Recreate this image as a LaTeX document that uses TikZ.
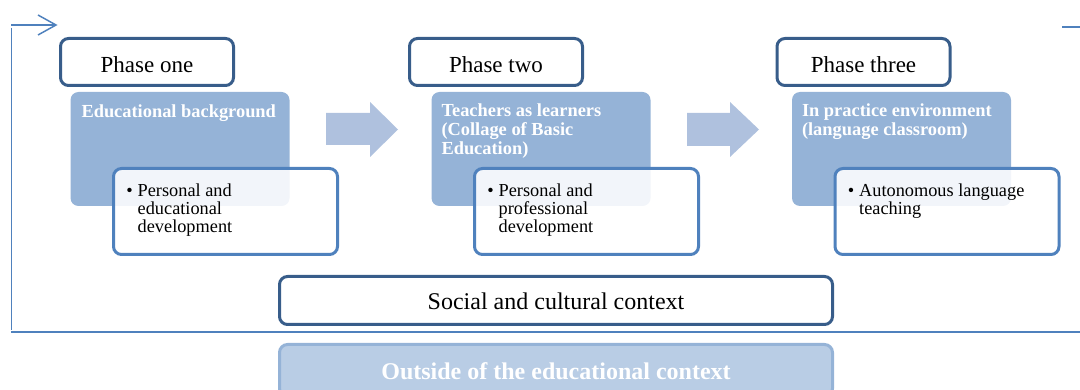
\documentclass[tikz,border=0pt]{standalone}
\usepackage{fontspec}
\setmainfont{Liberation Serif}
\usetikzlibrary{calc}
\definecolor{darkb}{HTML}{385D8A}
\definecolor{midb}{HTML}{4F81BD}
\definecolor{lightb}{HTML}{95B3D7}
\definecolor{arrowb}{HTML}{AFC1DE}
\definecolor{paleb}{HTML}{B9CDE5}
\newcommand{\toplines}[1]{\vtop{\halign{##\hfil\cr#1\crcr}}}
\tikzset{
  phasebox/.style={draw=darkb, line width=3pt, rounded corners=8pt, fill=white, minimum width=173pt, minimum height=47pt, inner sep=0pt},
  bluebox/.style={fill=lightb, rounded corners=8pt, minimum width=219pt, minimum height=114pt, inner sep=0pt},
  bulletbox/.style={draw=midb, line width=3pt, rounded corners=8pt, fill=white, fill opacity=0.88, minimum width=224pt, minimum height=86pt, inner sep=0pt},
  phasetext/.style={anchor=base, inner sep=0pt, font=\fontsize{23}{27}\selectfont},
  titletext/.style={anchor=base west, inner sep=0pt, text=white, font=\fontsize{18.4}{19}\selectfont\bfseries},
  bullettext/.style={anchor=base west, inner sep=0pt, font=\fontsize{18.3}{18}\selectfont},
  cycleline/.style={draw=midb, line width=1.5pt},
  blockarrow/.style={fill=arrowb},
}
\begin{document}
\begin{tikzpicture}[x=1pt,y=-1pt]
\useasboundingbox (0,0) rectangle (1080,390);
\clip (0,0) rectangle (1080,390);
% cycle lines
\coordinate (topL) at (11,25);
\coordinate (topR) at (55,25);
\coordinate (armA) at (38,15);
\coordinate (armB) at (38,35);
\coordinate (vTop) at (11.5,28);
\coordinate (vBot) at (11.5,330);
\coordinate (botL) at (11,332);
\coordinate (botR) at (1080,332);
\coordinate (rtL) at (1062,27);
\coordinate (rtR) at (1080,27);
\draw[cycleline] (topL) -- (topR);
\draw[cycleline, line join=miter] (armA) -- ($(topR)+(1,0)$) -- (armB);
\draw[cycleline] (vTop) -- (vBot);
\draw[draw=midb, line width=2.2pt] (botL) -- (botR);
\draw[cycleline] (rtL) -- (rtR);

% blue boxes
\node[bluebox] (b1) at (180,149) {};
\node[bluebox] (b2) at (541,149) {};
\node[bluebox] (b3) at (901.5,149) {};
% phase boxes
\node[phasebox] (p1) at (147,62) {};
\node[phasebox] (p2) at (496,62) {};
\node[phasebox] (p3) at (863.5,62) {};
\node[phasetext] (p1t) at ($(p1.center)+(0,11)$) {Phase one};
\node[phasetext] (p2t) at ($(p2.center)+(0,11)$) {Phase two};
\node[phasetext] (p3t) at ($(p3.center)+(0,11)$) {Phase three};
% titles
\node[titletext] (b1t) at ($(b1.north west)+(11,26)$) {Educational background};
\node[titletext] (b2t) at ($(b2.north west)+(10,25)$) {\toplines{Teachers as learners\cr (Collage of Basic\cr Education)}};
\node[titletext] (b3t) at ($(b3.north west)+(10,25)$) {\toplines{In practice environment\cr (language classroom)}};
% bullet boxes
\node[bulletbox] (w1) at (225.5,211.5) {};
\node[bulletbox] (w2) at (586.5,211.5) {};
\node[bulletbox] (w3) at (947,211.5) {};
\node[bullettext] (w1t) at ($(w1.north west)+(25.5,29.5)$) {\toplines{\llap{\textbullet\hspace{5pt}}Personal and\cr educational\cr development}};
\node[bullettext] (w2t) at ($(w2.north west)+(25.5,29.5)$) {\toplines{\llap{\textbullet\hspace{5pt}}Personal and\cr professional\cr development}};
\node[bullettext] (w3t) at ($(w3.north west)+(25.5,29.5)$) {\toplines{\llap{\textbullet\hspace{5pt}}Autonomous language\cr teaching}};
% block arrows
\fill[blockarrow] (326,113) -- (370,113) -- (370,102) -- (398,129.5) -- (370,157) -- (370,145) -- (326,145) -- cycle;
\fill[blockarrow] (687,113) -- (730,113) -- (730,102) -- (759,129.5) -- (730,157) -- (730,146) -- (687,146) -- cycle;
% social and outside
\node[draw=darkb, line width=3pt, rounded corners=8pt, fill=white, minimum width=553pt, minimum height=48pt, inner sep=0pt] (soc) at (556,300.5) {};
\node[anchor=base, inner sep=0pt, font=\fontsize{24}{28}\selectfont] (soct) at ($(soc.center)+(0,9.5)$) {Social and cultural context};
\node[draw=lightb, line width=3pt, rounded corners=8pt, fill=paleb, minimum width=553pt, minimum height=52pt, inner sep=0pt] (out) at (556,370.5) {};
\node[anchor=base, inner sep=0pt, text=white, font=\fontsize{24}{28}\selectfont\bfseries] (outt) at (556,379) {Outside of the educational context};
\end{tikzpicture}
\end{document}
